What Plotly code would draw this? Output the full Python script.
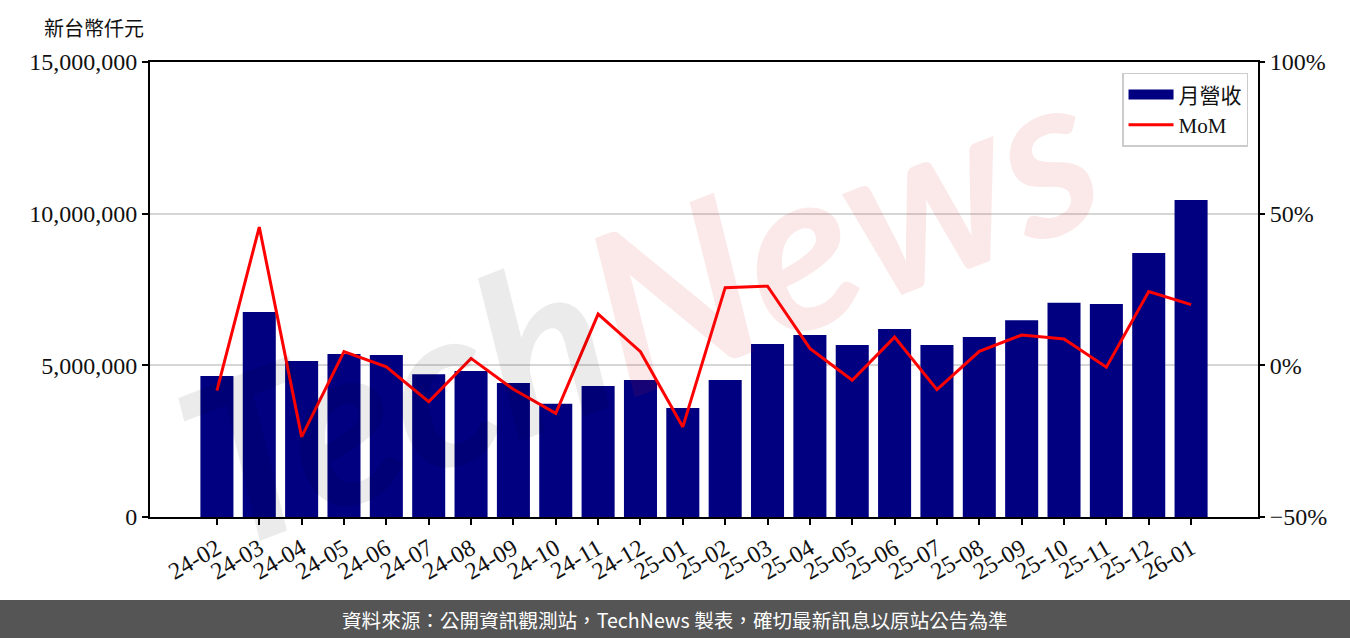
import plotly.graph_objects as go

months = [
    "24-02", "24-03", "24-04", "24-05", "24-06", "24-07", "24-08", "24-09",
    "24-10", "24-11", "24-12", "25-01", "25-02", "25-03", "25-04", "25-05",
    "25-06", "25-07", "25-08", "25-09", "25-10", "25-11", "25-12", "26-01",
]
revenue = [
    4650000, 6760000, 5140000, 5370000, 5340000, 4710000, 4810000, 4420000,
    3730000, 4320000, 4520000, 3590000, 4520000, 5700000, 6000000, 5670000,
    6200000, 5670000, 5930000, 6490000, 7060000, 7020000, 8700000, 10450000,
]
mom = [
    -8.3, 45.6, -23.6, 4.5, -0.5, -12.0, 2.3, -7.9,
    -15.8, 16.9, 4.5, -20.3, 25.6, 26.1, 5.6, -4.9,
    9.3, -8.0, 4.6, 10.0, 8.7, -0.6, 24.3, 20.0,
]

SERIF = "Liberation Serif, Noto Sans CJK TC, serif"
CJK = "Noto Sans CJK TC, sans-serif"
NAVY = "#000080"

fig = go.Figure()
fig.add_trace(
    go.Bar(
        x=months,
        y=revenue,
        name="月營收",
        marker=dict(color=NAVY, line=dict(width=0)),
        width=0.78,
        showlegend=False,
    )
)
# legend-only entry so the swatch is a wide rectangle like the original
fig.add_trace(
    go.Scatter(
        x=[None],
        y=[None],
        name="月營收",
        mode="lines",
        line=dict(color=NAVY, width=16),
    )
)
fig.add_trace(
    go.Scatter(
        x=months,
        y=mom,
        name="MoM",
        mode="lines",
        yaxis="y2",
        line=dict(color="#ff0000", width=3),
    )
)

fig.update_layout(
    width=1350,
    height=638,
    paper_bgcolor="white",
    plot_bgcolor="white",
    margin=dict(l=150, r=92, t=62, b=121),
    font=dict(family=SERIF, size=24, color="#111111"),
    showlegend=True,
    legend=dict(
        x=0.991,
        y=0.976,
        xanchor="right",
        yanchor="top",
        bgcolor="rgba(255,255,255,0.9)",
        bordercolor="#cccccc",
        borderwidth=1.5,
        font=dict(family=SERIF, size=21, color="#111111"),
        itemwidth=45,
        tracegroupgap=2,
    ),
    xaxis=dict(
        type="category",
        range=[-1.58, 24.58],
        tickangle=-30,
        ticks="outside",
        ticklen=6,
        tickwidth=2,
        tickcolor="black",
        showline=True,
        linecolor="black",
        linewidth=2,
        mirror=True,
        showgrid=False,
        tickfont=dict(family=SERIF, size=24),
    ),
    yaxis=dict(
        range=[0, 15000000],
        dtick=5000000,
        tickformat=",d",
        ticks="outside",
        ticklen=6,
        tickwidth=2,
        tickcolor="black",
        showline=True,
        linecolor="black",
        linewidth=2,
        mirror=True,
        showgrid=True,
        gridcolor="#d6d6d6",
        gridwidth=2,
        zeroline=False,
        tickfont=dict(family=SERIF, size=24),
    ),
    yaxis2=dict(
        overlaying="y",
        side="right",
        range=[-50, 100],
        dtick=50,
        ticksuffix="%",
        ticks="outside",
        ticklen=6,
        tickwidth=2,
        tickcolor="black",
        showgrid=False,
        zeroline=False,
        tickfont=dict(family=SERIF, size=24),
    ),
    annotations=[
        dict(
            text="新台幣仟元",
            xref="paper",
            yref="paper",
            x=(94 - 150) / 1108,
            y=(517 - 27) / 455,
            xanchor="center",
            yanchor="middle",
            showarrow=False,
            font=dict(family=CJK, size=20, color="#111111"),
        ),
        dict(
            text=(
                "<span style='color:rgba(0,0,0,0.08)'>Tech</span>"
                "<span style='color:rgba(215,40,40,0.10)'>News</span>"
            ),
            xref="paper",
            yref="paper",
            x=0.44,
            y=0.47,
            showarrow=False,
            textangle=-21,
            font=dict(family="Lato", size=225, style="italic", weight="bold"),
        ),
        dict(
            text="資料來源：公開資訊觀測站，TechNews 製表，確切最新訊息以原站公告為準",
            xref="paper",
            yref="paper",
            x=(675 - 150) / 1108,
            y=-(619 - 517) / 455,
            xanchor="center",
            yanchor="middle",
            showarrow=False,
            font=dict(family=CJK, size=19.6, color="white"),
        ),
    ],
    shapes=[
        dict(
            type="rect",
            xref="paper",
            yref="paper",
            x0=-150 / 1108,
            x1=1 + 92 / 1108,
            y0=-(640 - 517) / 455,
            y1=-(600 - 517) / 455,
            fillcolor="#555555",
            line=dict(width=0),
            layer="below",
        )
    ],
)

fig.write_html(
    "out.html",
    config={"displayModeBar": False},
    post_script="document.body.style.margin='0';",
)
